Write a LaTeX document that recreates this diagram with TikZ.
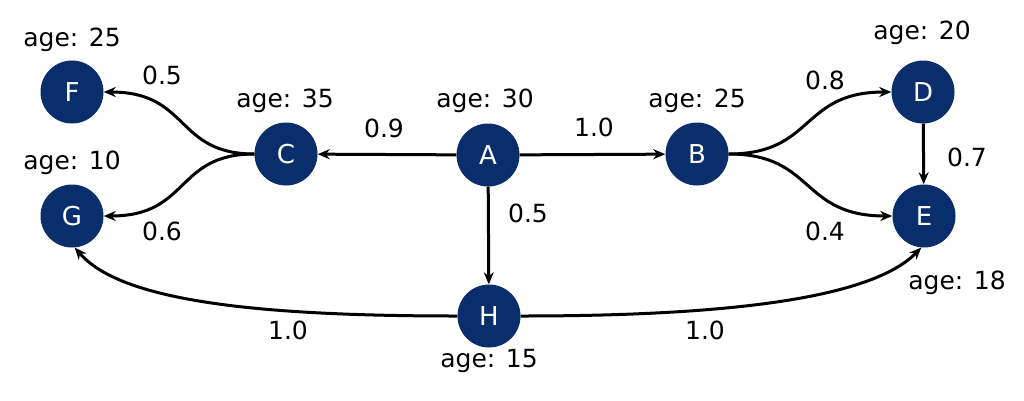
\documentclass[tikz,border=0pt]{standalone}
\usepackage{fontspec}
\setmainfont{DejaVu Sans}
\usetikzlibrary{arrows.meta}
\definecolor{navy}{HTML}{0A2E6C}
\begin{document}
\begin{tikzpicture}[x=1pt,y=-1pt,
  vertex/.style={circle,fill=navy,minimum size=63pt,inner sep=0pt,text=white,font=\fontsize{26}{30}\selectfont},
  lbl/.style={font=\fontsize{25}{30}\selectfont,inner sep=0pt,text=black},
  edge/.style={line width=3pt,draw=black,-{Stealth[length=12pt,width=10pt]}}]
\useasboundingbox (0,0) rectangle (1024,400);
% vertices
\node[vertex] (F) at (72,92) {F};
\node[vertex] (C) at (286,154) {C};
\node[vertex] (G) at (72,216) {G};
\node[vertex] (A) at (488,155) {A};
\node[vertex] (H) at (489,316) {H};
\node[vertex] (B) at (697,154) {B};
\node[vertex] (D) at (923,92) {D};
\node[vertex] (E) at (924,216) {E};
% age labels
\node[lbl] (aF) at (72,40) {age: 25};
\node[lbl] (aC) at (285,101) {age: 35};
\node[lbl] (aA) at (485,101) {age: 30};
\node[lbl] (aB) at (697,101) {age: 25};
\node[lbl] (aD) at (922,33) {age: 20};
\node[lbl] (aE) at (957,283) {age: 18};
\node[lbl] (aG) at (72,163) {age: 10};
\node[lbl] (aH) at (489,361) {age: 15};
% edges
\draw[edge] (C.west) .. controls (175,154) and (190,92) .. (F.east);
\draw[edge] (C.west) .. controls (175,154) and (190,216) .. (G.east);
\draw[edge] (A) -- (C);
\draw[edge] (A) -- (B);
\draw[edge] (A) -- (H);
\draw[edge] (B.east) .. controls (815,154) and (800,92) .. (D.west);
\draw[edge] (B.east) .. controls (815,154) and (800,216) .. (E.west);
\draw[edge] (D) -- (E);
\draw[edge] (H.west) .. controls (250,316) and (120,300) .. (G.-85);
\draw[edge] (H.east) .. controls (720,316) and (870,300) .. (E.-95);
% edge labels
\node[lbl] (w1) at (162,75) {0.5};
\node[lbl] (w2) at (162,231) {0.6};
\node[lbl] (w3) at (384,128) {0.9};
\node[lbl] (w4) at (594,127) {1.0};
\node[lbl] (w5) at (528,213) {0.5};
\node[lbl] (w6) at (825,80) {0.8};
\node[lbl] (w7) at (825,231) {0.4};
\node[lbl] (w8) at (967,157) {0.7};
\node[lbl] (w9) at (288,330) {1.0};
\node[lbl] (w10) at (705,330) {1.0};
\end{tikzpicture}
\end{document}
